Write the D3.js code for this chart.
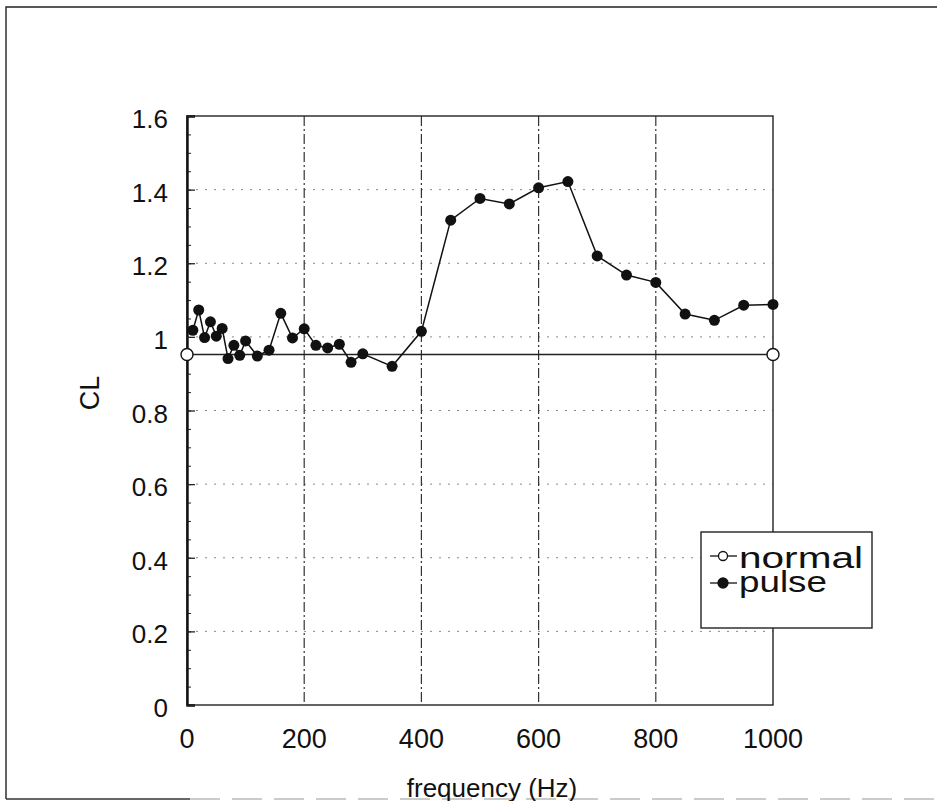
<!DOCTYPE html>
<html>
<head>
<meta charset="utf-8">
<script src="https://cdn.jsdelivr.net/npm/d3@7"></script>
<style>
  body { margin: 0; background: #fff; }
  text { font-family: "Liberation Sans", Arial, sans-serif; fill: #111; }
</style>
</head>
<body>
<div id="chart"></div>
<script>
// pulse series
const pulseFreq = [10, 20, 30, 40, 50, 60, 70, 80, 90, 100, 120, 140, 160, 180, 200, 220, 240, 260, 280, 300, 350, 400,
  450, 500, 550, 600, 650, 700, 750, 800, 850, 900, 950, 1000]
const pulseCL = [1.018, 1.073, 0.998, 1.041, 1.002, 1.023, 0.941, 0.977, 0.95, 0.989, 0.948, 0.964, 1.064, 0.997, 1.022,
  0.977, 0.97, 0.98, 0.931, 0.954, 0.92, 1.015, 1.317, 1.376, 1.361, 1.405, 1.422, 1.22, 1.168, 1.148, 1.062, 1.045, 1.086, 1.088]

// normal series
const normalFreq = [0, 1000]
const normalCL = [0.952, 0.952]

const xTicks = [0, 200, 400, 600, 800, 1000]
const yTicks = [0, 0.2, 0.4, 0.6, 0.8, 1, 1.2, 1.4, 1.6]
const legendLabels = ['normal', 'pulse']

let width = 937, height = 801
let plotLeft = 187, plotRight = 773, plotTop = 116, plotBottom = 705

let svg = d3.select('#chart')
  .append('svg')
  .attr('width', width)
  .attr('height', height)

// outer figure frame (no right edge in the scan)
svg.append('path')
  .attr('d', 'M937,7 L6,7 L6,799')
  .attr('fill', 'none')
  .attr('stroke', '#222')
  .attr('stroke-width', 1.4)
svg.append('line')
  .attr('x1', 6).attr('x2', 190)
  .attr('y1', 799).attr('y2', 799)
  .attr('stroke', '#333')
  .attr('stroke-width', 1.4)
svg.append('line')
  .attr('x1', 190).attr('x2', 937)
  .attr('y1', 799).attr('y2', 799)
  .attr('stroke', '#bbb')
  .attr('stroke-width', 1.4)
  .attr('stroke-dasharray', '30,12')

let xScale = d3.scaleLinear().domain([0, 1000]).range([plotLeft, plotRight])
let yScale = d3.scaleLinear().domain([0, 1.6]).range([plotBottom, plotTop])

// horizontal dotted grid
svg.append('g')
  .selectAll('line')
  .data(yTicks.filter(d => d > 0 && d < 1.6))
  .enter()
  .append('line')
  .attr('x1', plotLeft).attr('x2', plotRight)
  .attr('y1', d => yScale(d)).attr('y2', d => yScale(d))
  .attr('stroke', '#888')
  .attr('stroke-width', 1)
  .attr('stroke-dasharray', '2,7')

// vertical dash-dot grid
svg.append('g')
  .selectAll('line')
  .data(xTicks.filter(d => d > 0 && d < 1000))
  .enter()
  .append('line')
  .attr('x1', d => xScale(d)).attr('x2', d => xScale(d))
  .attr('y1', plotTop).attr('y2', plotBottom)
  .attr('stroke', '#333')
  .attr('stroke-width', 1.2)
  .attr('stroke-dasharray', '10,3,2,3')

// frame of plot
svg.append('rect')
  .attr('x', plotLeft).attr('y', plotTop)
  .attr('width', plotRight - plotLeft).attr('height', plotBottom - plotTop)
  .attr('fill', 'none')
  .attr('stroke', '#222')
  .attr('stroke-width', 1.4)

// y axis with inward ticks
let yAxis = d3.axisRight(yScale)
  .tickValues(yTicks)
  .tickSize(8)
  .tickFormat('')
let yMinor = d3.axisRight(yScale)
  .tickValues(d3.range(0, 1.6001, 0.05))
  .tickSize(4)
  .tickFormat('')
svg.append('g')
  .attr('transform', `translate(${plotLeft},0)`)
  .call(yMinor)
  .call(g => g.select('.domain').remove())
  .selectAll('line').attr('stroke', '#222')
svg.append('g')
  .attr('transform', `translate(${plotLeft},0)`)
  .call(yAxis)
  .call(g => g.select('.domain').attr('stroke-width', 2.4).attr('stroke', '#111'))
  .selectAll('line').attr('stroke', '#222').attr('stroke-width', 1.3)

// y tick labels
svg.append('g')
  .selectAll('text')
  .data(yTicks)
  .enter()
  .append('text')
  .attr('x', 168)
  .attr('y', d => yScale(d) + 12)
  .attr('text-anchor', 'end')
  .attr('font-size', 26)
  .text(d => d)

// x tick labels
svg.append('g')
  .selectAll('text')
  .data(xTicks)
  .enter()
  .append('text')
  .attr('x', d => xScale(d))
  .attr('y', 748)
  .attr('text-anchor', 'middle')
  .attr('font-size', 27)
  .text(d => d)

// axis titles
svg.append('text')
  .attr('transform', 'translate(99,393) rotate(-90)')
  .attr('text-anchor', 'middle')
  .attr('font-size', 27)
  .text('CL')

svg.append('text')
  .attr('x', 492)
  .attr('y', 797)
  .attr('text-anchor', 'middle')
  .attr('font-size', 26)
  .text('frequency (Hz)')

let line = d3.line()
  .x(d => xScale(d[0]))
  .y(d => yScale(d[1]))

let normal = normalFreq.map((f, i) => [f, normalCL[i]])
let pulse = pulseFreq.map((f, i) => [f, pulseCL[i]])

svg.append('path')
  .datum(normal)
  .attr('d', line)
  .attr('fill', 'none')
  .attr('stroke', '#222')
  .attr('stroke-width', 1.4)

svg.append('path')
  .datum(pulse)
  .attr('d', line)
  .attr('fill', 'none')
  .attr('stroke', '#111')
  .attr('stroke-width', 1.5)

svg.append('g')
  .selectAll('circle')
  .data(normal)
  .enter()
  .append('circle')
  .attr('cx', d => xScale(d[0]))
  .attr('cy', d => yScale(d[1]))
  .attr('r', 6)
  .attr('fill', '#fff')
  .attr('stroke', '#111')
  .attr('stroke-width', 1.4)

svg.append('g')
  .selectAll('circle')
  .data(pulse)
  .enter()
  .append('circle')
  .attr('cx', d => xScale(d[0]))
  .attr('cy', d => yScale(d[1]))
  .attr('r', 5.5)
  .attr('fill', '#111')

// legend
let legend = svg.append('g').attr('transform', 'translate(701,532)')
legend.append('rect')
  .attr('width', 171).attr('height', 96)
  .attr('fill', '#fff')
  .attr('stroke', '#222')
  .attr('stroke-width', 1.4)

const legendWidths = [124, 88]
legendLabels.forEach((name, i) => {
  let y = 24 + i * 27
  legend.append('line')
    .attr('x1', 9).attr('x2', 36)
    .attr('y1', y).attr('y2', y)
    .attr('stroke', '#111')
    .attr('stroke-width', 1.3)
  legend.append('circle')
    .attr('cx', 22).attr('cy', y)
    .attr('r', i === 0 ? 4.5 : 5)
    .attr('fill', i === 0 ? '#fff' : '#111')
    .attr('stroke', '#111')
    .attr('stroke-width', 1.3)
  legend.append('text')
    .attr('x', 38)
    .attr('y', 36 + i * 24)
    .attr('font-size', 30)
    .attr('textLength', legendWidths[i])
    .attr('lengthAdjust', 'spacingAndGlyphs')
    .text(name)
})
</script>
</body>
</html>
